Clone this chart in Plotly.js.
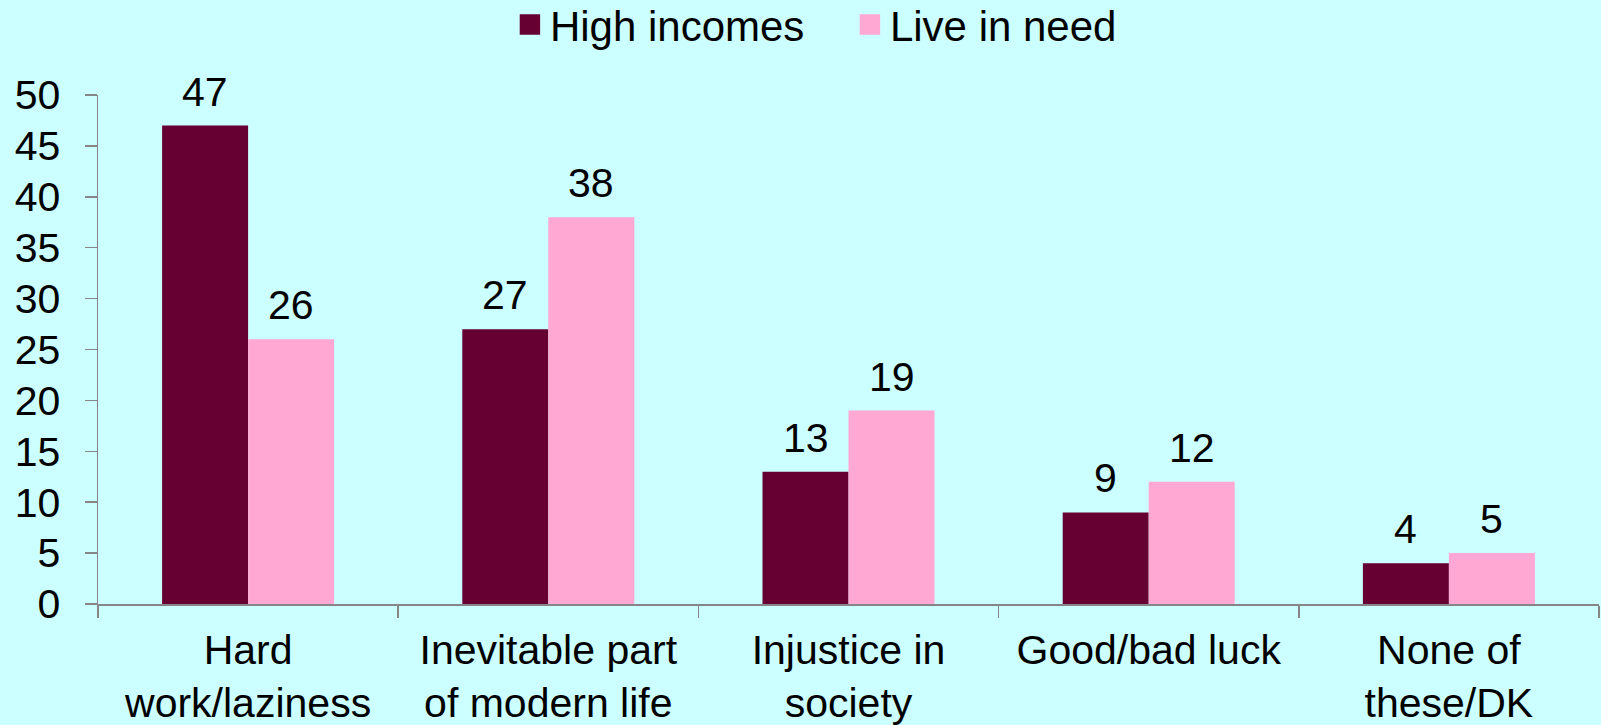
<!DOCTYPE html>
<html>
<head>
<meta charset="utf-8">
<script src="https://cdn.plot.ly/plotly-3.0.1.min.js"></script>
<style>html,body{margin:0;padding:0;background:#CCFFFF;}#chart{width:1601px;height:725px;}</style>
</head>
<body>
<div id="chart"></div>
<script>
const categories = ["Hard<br>work/laziness", "Inevitable part<br>of modern life", "Injustice in<br>society", "Good/bad luck", "None of<br>these/DK"];
const seriesNames = ["High incomes", "Live in need"];
const highIncomes = [47, 27, 13, 9, 4];
const liveInNeed = [26, 38, 19, 12, 5];
const yTicks = [0, 5, 10, 15, 20, 25, 30, 35, 40, 45, 50];

const colors = ["#660033", "#FFA8D4"];
const allSeries = [highIncomes, liveInNeed];
const FONT = "Liberation Sans, Arial, sans-serif";

const traces = allSeries.map((vals, s) => ({
  type: "bar",
  name: seriesNames[s],
  x: categories,
  y: vals,
  marker: {color: colors[s], line: {width: 0}},
  hoverinfo: "skip"
}));

const annotations = [];
allSeries.forEach((vals, s) => {
  vals.forEach((v, i) => {
    annotations.push({
      x: categories[i], y: v, xref: "x", yref: "y",
      text: String(v), showarrow: false,
      xshift: s === 0 ? -43 : 43, yshift: 9,
      yanchor: "bottom", xanchor: "center",
      font: {family: FONT, size: 41, color: "#000"}
    });
  });
});

const layout = {
  width: 1601, height: 725,
  paper_bgcolor: "#CCFFFF", plot_bgcolor: "#CCFFFF",
  margin: {l: 98, r: 2, t: 95, b: 121},
  barmode: "group", bargap: 0.427, bargroupgap: 0,
  font: {family: FONT, size: 41, color: "#000"},
  showlegend: true,
  legend: {
    orientation: "h", xref: "container", yref: "container",
    x: 0.3185, xanchor: "left", y: 0.966, yanchor: "middle",
    entrywidth: 295, entrywidthmode: "pixels",
    font: {family: FONT, size: 42, color: "#000"},
    bgcolor: "rgba(0,0,0,0)", traceorder: "normal"
  },
  xaxis: {
    type: "category", showgrid: false, zeroline: false,
    showline: true, linecolor: "#868686", linewidth: 1.5,
    ticks: "outside", tickson: "boundaries", ticklen: 12, tickcolor: "#868686", tickwidth: 1.5,
    tickfont: {family: FONT, size: 41, color: "#000"},
    ticklabelstandoff: 9
  },
  yaxis: {
    range: [0, 50], tickvals: yTicks, ticktext: yTicks.map(String),
    showgrid: false, zeroline: false,
    showline: true, linecolor: "#868686", linewidth: 1.5,
    ticks: "outside", ticklen: 12, tickcolor: "#868686", tickwidth: 1.5,
    tickfont: {family: FONT, size: 41, color: "#000"},
    ticklabelstandoff: 16
  },
  annotations: annotations
};

Plotly.newPlot("chart", traces, layout, {displayModeBar: false, staticPlot: true}).then(() => {
  document.querySelectorAll("#chart .legend .legendpoints path").forEach(p => {
    const t = p.getAttribute("transform") || "";
    p.setAttribute("transform", (t + " scale(1.7)").trim());
  });
});
</script>
</body>
</html>
